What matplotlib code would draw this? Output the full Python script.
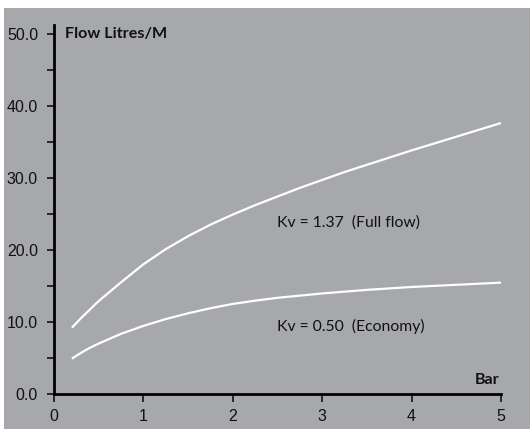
import numpy as np
import matplotlib.pyplot as plt
from matplotlib.patches import Rectangle

# Pressure (bar) and flow (litres/min)
bar = [0.2, 0.3, 0.4, 0.5, 0.75, 1.0, 1.25, 1.5, 1.75, 2.0, 2.25, 2.5, 2.75,
       3.0, 3.25, 3.5, 3.75, 4.0, 4.25, 4.5, 4.75, 5.0]
full_flow = [9.2, 10.5, 11.7, 12.9, 15.5, 18.0, 20.1, 21.9, 23.5, 24.9, 26.2,
             27.4, 28.6, 29.7, 30.8, 31.8, 32.8, 33.8, 34.75, 35.7, 36.65, 37.6]
economy = [4.9, 5.7, 6.4, 7.0, 8.35, 9.45, 10.4, 11.2, 11.9, 12.5, 12.95, 13.35,
           13.65, 13.95, 14.2, 14.45, 14.65, 14.85, 15.0, 15.15, 15.3, 15.45]

y_ticks = [0, 10, 20, 30, 40, 50]
y_minor = [5, 15, 25, 35, 45]
x_ticks = [0, 1, 2, 3, 4, 5]

bg = '#a7a8ab'

fig = plt.figure(figsize=(5.3, 4.29), dpi=100, facecolor='white')
# grey panel with thin white margin at top and left
fig.patches.append(Rectangle((4 / 530, 0), 1, (429 - 8) / 429,
                             transform=fig.transFigure, facecolor=bg,
                             edgecolor='none', zorder=-10))

ax = fig.add_axes([54 / 530, 35 / 429, 447 / 530, (394 - 25) / 429])
ax.set_facecolor('none')
ax.set_zorder(5)

ax.plot(bar, full_flow, color='white', lw=1.6, solid_capstyle='butt')
ax.plot(bar, economy, color='white', lw=1.6, solid_capstyle='butt')

ax.set_xlim(0, 5)
ax.set_ylim(0, 51.2)

for side in ['top', 'right']:
    ax.spines[side].set_visible(False)
ax.spines['left'].set_linewidth(2)
ax.spines['bottom'].set_linewidth(2)

ax.set_yticks(y_ticks)
ax.set_yticklabels([f'{v:.1f}' for v in y_ticks])
ax.set_yticks(y_minor, minor=True)
ax.set_xticks(x_ticks)
ax.set_xticklabels([str(v) for v in x_ticks])
ax.tick_params(axis='y', which='both', length=5, width=1.2, pad=6.5,
               labelsize=11.5, colors='#111111')
ax.tick_params(axis='x', length=5.5, width=1.2, pad=5, labelsize=11.5,
               colors='#111111')
for lab in ax.get_xticklabels() + ax.get_yticklabels():
    lab.set_family('Liberation Sans')

# Axis titles placed as in the original artwork
ax.text(0.12, 49.9, 'Flow Litres/M', fontsize=11.6, fontweight='bold',
        family='Lato', va='center', ha='left', color='#111111')
ax.text(4.98, 2.0, 'Bar', fontsize=11.6, fontweight='bold',
        family='Lato', va='center', ha='right', color='#111111')

# Curve labels
ax.text(2.49, 23.8, 'Kv = 1.37  (Full flow)', fontsize=11.3, family='Lato',
        va='center', ha='left', color='#111111')
ax.text(2.49, 9.4, 'Kv = 0.50  (Economy)', fontsize=11.3, family='Lato',
        va='center', ha='left', color='#111111')

plt.savefig('out.png', dpi=100, facecolor=fig.get_facecolor())
